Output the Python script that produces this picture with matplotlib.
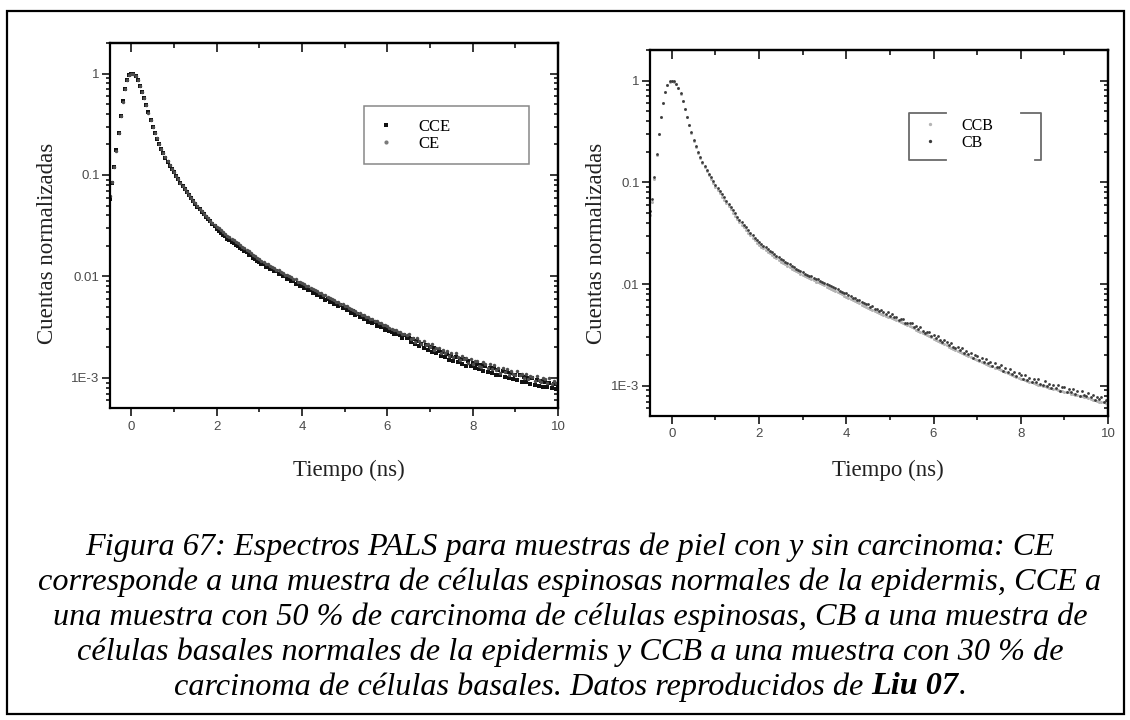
import numpy as np
import matplotlib
matplotlib.use("Agg")
import matplotlib.pyplot as plt
from matplotlib.lines import Line2D
from matplotlib.patches import Rectangle
from matplotlib.ticker import MultipleLocator, LogLocator, NullFormatter

# PALS time channels (50 ps wide) from -0.5 ns to 10 ns
t_ns = np.round(np.arange(211) * 0.05 - 0.5, 2)

# left panel: CCE (squares) and CE (dots), normalised counts
cce = [
    0.058, 0.084, 0.121, 0.176, 0.262, 0.378, 0.531, 0.702, 0.858, 0.968,
    1.0, 0.988, 0.938, 0.861, 0.762, 0.665, 0.570, 0.485, 0.415, 0.352,
    0.300, 0.260, 0.228, 0.201, 0.180, 0.163, 0.148, 0.135, 0.124, 0.114,
    0.106, 0.0974, 0.0903, 0.0835, 0.0779, 0.0725, 0.0679, 0.0633, 0.0594, 0.0555,
    0.0519, 0.0488, 0.0461, 0.0434, 0.0411, 0.0388, 0.0368, 0.0349, 0.0331, 0.0314,
    0.0292, 0.0279, 0.0269, 0.0256, 0.0249, 0.0236, 0.0231, 0.0220, 0.0214, 0.0204,
    0.0200, 0.0190, 0.0186, 0.0177, 0.0173, 0.0164, 0.0161, 0.0153, 0.0149, 0.0142,
    0.0140, 0.0133, 0.0132, 0.0125, 0.0125, 0.0118, 0.0118, 0.0112, 0.0112, 0.0106,
    0.0105, 0.0100, 0.0101, 0.0095, 0.0094, 0.0091, 0.0090, 0.0085, 0.0086, 0.0081,
    0.0081, 0.0077, 0.00775, 0.00735, 0.00738, 0.0069, 0.00702, 0.0066, 0.00668, 0.00625,
    0.0063, 0.0059, 0.0060, 0.00562, 0.00575, 0.00538, 0.00545, 0.00508, 0.0052, 0.00488,
    0.00495, 0.00462, 0.00472, 0.00438, 0.00452, 0.00418, 0.0043, 0.00398, 0.00412, 0.0038,
    0.00388, 0.00358, 0.00372, 0.00345, 0.00354, 0.00326, 0.00342, 0.00315, 0.00322, 0.00296,
    0.0031, 0.00292, 0.00285, 0.00272, 0.00283, 0.00268, 0.00262, 0.00248, 0.00263, 0.00245,
    0.0025, 0.00226, 0.0024, 0.00218, 0.0023, 0.00206, 0.00218, 0.00198, 0.0021, 0.00188,
    0.002, 0.0018, 0.00195, 0.00176, 0.00186, 0.00165, 0.0018, 0.0016, 0.00172, 0.0015,
    0.00165, 0.00148, 0.00162, 0.00142, 0.00155, 0.00138, 0.00152, 0.0013, 0.00146, 0.00131,
    0.0014, 0.00126, 0.00138, 0.00121, 0.00135, 0.00118, 0.0013, 0.00114, 0.00126, 0.00111,
    0.00124, 0.00108, 0.0012, 0.00106, 0.00117, 0.00102, 0.00115, 0.001, 0.00111, 0.00097,
    0.00108, 0.00096, 0.00106, 0.00092, 0.00103, 0.00091, 0.001, 0.00088, 0.00099, 0.00086,
    0.00095, 0.00084, 0.00094, 0.00082, 0.00092, 0.00081, 0.0009, 0.00079, 0.00088, 0.00078,
    0.00086,
]
ce = [
    0.062, 0.086, 0.119, 0.174, 0.258, 0.382, 0.528, 0.698, 0.862, 0.972,
    1.0, 0.992, 0.942, 0.858, 0.758, 0.662, 0.568, 0.488, 0.412, 0.350,
    0.298, 0.259, 0.229, 0.200, 0.181, 0.164, 0.149, 0.136, 0.125, 0.115,
    0.107, 0.0978, 0.0906, 0.0840, 0.0783, 0.0731, 0.0682, 0.0638, 0.0598, 0.0560,
    0.0526, 0.0494, 0.0466, 0.0440, 0.0416, 0.0394, 0.0374, 0.0355, 0.0337, 0.0320,
    0.0310, 0.0297, 0.0286, 0.0272, 0.0264, 0.0253, 0.0245, 0.0234, 0.0228, 0.0218,
    0.0212, 0.0205, 0.0196, 0.0191, 0.0182, 0.0177, 0.0170, 0.0164, 0.0158, 0.0153,
    0.0148, 0.0142, 0.0140, 0.0134, 0.0133, 0.0127, 0.0125, 0.0121, 0.0117, 0.0115,
    0.0111, 0.0109, 0.0104, 0.0103, 0.0100, 0.0098, 0.0094, 0.0094, 0.0089, 0.0088,
    0.0086, 0.0084, 0.00808, 0.0080, 0.0077, 0.00755, 0.00735, 0.00718, 0.0069, 0.00682,
    0.00662, 0.0065, 0.00622, 0.00618, 0.00598, 0.0059, 0.00565, 0.0056, 0.0054, 0.00532,
    0.00515, 0.00508, 0.00488, 0.00482, 0.00462, 0.0046, 0.0044, 0.00438, 0.0042, 0.00416,
    0.00398, 0.00396, 0.0038, 0.0038, 0.00362, 0.00362, 0.00345, 0.00346, 0.00332, 0.0033,
    0.00322, 0.00309, 0.00305, 0.00296, 0.00294, 0.00284, 0.00281, 0.00271, 0.0027, 0.00262,
    0.00271, 0.00243, 0.00248, 0.00227, 0.00245, 0.00231, 0.00217, 0.00233, 0.00211, 0.00217,
    0.002, 0.00214, 0.00188, 0.00199, 0.00199, 0.00176, 0.00188, 0.00176, 0.00185, 0.00166,
    0.00177, 0.00159, 0.00177, 0.00159, 0.0015, 0.00165, 0.00155, 0.00157, 0.0014, 0.00152,
    0.00137, 0.00146, 0.00148, 0.00132, 0.00127, 0.00142, 0.00136, 0.00125, 0.00136, 0.00122,
    0.00134, 0.00119, 0.00125, 0.00113, 0.00125, 0.00114, 0.00121, 0.00108, 0.00116, 0.0011,
    0.00107, 0.00118, 0.00106, 0.00109, 0.00099, 0.00109, 0.00097, 0.00105, 0.00101, 0.00093,
    0.00104, 0.00095, 0.00091, 0.001, 0.00097, 0.00089, 0.00099, 0.00088, 0.00094, 0.00089,
    0.0009,
]

# right panel: CCB (light dots) and CB (dark dots)
ccb = [
    0.048, 0.064, 0.108, 0.186, 0.296, 0.436, 0.596, 0.766, 0.898, 0.98,
    1.0, 0.98, 0.925, 0.848, 0.742, 0.628, 0.524, 0.435, 0.365, 0.305,
    0.257, 0.223, 0.195, 0.173, 0.155, 0.140, 0.128, 0.117, 0.107, 0.0985,
    0.0905, 0.0841, 0.0781, 0.0726, 0.0675, 0.0627, 0.0583, 0.0542, 0.0504, 0.0469,
    0.0435, 0.0407, 0.0383, 0.0361, 0.0340, 0.0321, 0.0303, 0.0286, 0.0271, 0.0256,
    0.0242, 0.0232, 0.0224, 0.0215, 0.0208, 0.0200, 0.0193, 0.0185, 0.0179, 0.0172,
    0.0165, 0.0161, 0.0156, 0.0151, 0.0147, 0.0142, 0.0138, 0.0133, 0.0130, 0.0126,
    0.0122, 0.0119, 0.0117, 0.0114, 0.0112, 0.0109, 0.0106, 0.0104, 0.0102, 0.0100,
    0.0097, 0.0094, 0.0092, 0.0090, 0.0087, 0.0086, 0.0084, 0.0081, 0.0079, 0.0077,
    0.0075, 0.00733, 0.00714, 0.00697, 0.00679, 0.00662, 0.00645, 0.00629, 0.00613, 0.00598,
    0.00583, 0.00571, 0.00558, 0.00546, 0.00535, 0.00524, 0.00512, 0.00501, 0.00491, 0.0048,
    0.0047, 0.0046, 0.00449, 0.0044, 0.0043, 0.0042, 0.00411, 0.00402, 0.00393, 0.00384,
    0.00376, 0.00367, 0.00357, 0.00348, 0.00339, 0.00331, 0.00322, 0.00314, 0.00306, 0.00299,
    0.00291, 0.00284, 0.00276, 0.0027, 0.00263, 0.00257, 0.0025, 0.00243, 0.00237, 0.00231,
    0.00226, 0.0022, 0.00215, 0.00211, 0.00206, 0.00201, 0.00196, 0.00192, 0.00187, 0.00183,
    0.00179, 0.00175, 0.00171, 0.00168, 0.00165, 0.00162, 0.00158, 0.00155, 0.00151, 0.00149,
    0.00146, 0.00143, 0.00139, 0.00136, 0.00133, 0.00131, 0.00128, 0.00125, 0.00122, 0.0012,
    0.00118, 0.00116, 0.00114, 0.00112, 0.0011, 0.00108, 0.00106, 0.00104, 0.00103, 0.00102,
    0.001, 0.00099, 0.00097, 0.00096, 0.00095, 0.00093, 0.00092, 0.00091, 0.00089, 0.00088,
    0.00087, 0.00086, 0.00086, 0.00084, 0.00083, 0.00082, 0.00081, 0.0008, 0.00079, 0.00078,
    0.00077, 0.00076, 0.00075, 0.00073, 0.00072, 0.00071, 0.0007, 0.0007, 0.00069, 0.00068,
    0.00067,
]
cb = [
    0.052, 0.068, 0.112, 0.192, 0.302, 0.442, 0.602, 0.772, 0.902, 0.982,
    1.0, 0.985, 0.93, 0.855, 0.75, 0.635, 0.53, 0.44, 0.37, 0.31,
    0.262, 0.228, 0.200, 0.178, 0.160, 0.145, 0.133, 0.122, 0.112, 0.103,
    0.095, 0.0884, 0.0822, 0.0764, 0.0711, 0.0661, 0.0615, 0.0572, 0.0532, 0.0495,
    0.0460, 0.0431, 0.0405, 0.0382, 0.0360, 0.0340, 0.0321, 0.0303, 0.0287, 0.0271,
    0.0257, 0.0247, 0.0238, 0.0229, 0.0221, 0.0213, 0.0205, 0.0197, 0.0190, 0.0183,
    0.0176, 0.0171, 0.0166, 0.0161, 0.0156, 0.0151, 0.0147, 0.0142, 0.0138, 0.0134,
    0.0130, 0.0127, 0.0124, 0.0121, 0.0119, 0.0116, 0.0113, 0.0111, 0.0108, 0.0106,
    0.0103, 0.0100, 0.0098, 0.0096, 0.0093, 0.0091, 0.0089, 0.0086, 0.0084, 0.0082,
    0.0081, 0.00775, 0.00765, 0.00735, 0.00728, 0.00698, 0.00692, 0.00662, 0.00658, 0.0063,
    0.00632, 0.00601, 0.00612, 0.00569, 0.00575, 0.0054, 0.00556, 0.00533, 0.00512, 0.00526,
    0.0049, 0.00504, 0.00473, 0.00477, 0.00443, 0.00451, 0.0045, 0.00419, 0.00418, 0.00417,
    0.00412, 0.00382, 0.00384, 0.00359, 0.00375, 0.00348, 0.00333, 0.00341, 0.00339, 0.00312,
    0.00316, 0.00293, 0.00306, 0.00284, 0.00269, 0.00281, 0.00269, 0.00251, 0.00265, 0.00241,
    0.00233, 0.00243, 0.00224, 0.00235, 0.0021, 0.00218, 0.00207, 0.00212, 0.00189, 0.00201,
    0.00198, 0.00179, 0.00186, 0.0017, 0.00184, 0.00169, 0.00173, 0.00158, 0.00167, 0.00153,
    0.00152, 0.0016, 0.00141, 0.00149, 0.00136, 0.00147, 0.00132, 0.00136, 0.00124, 0.00133,
    0.00129, 0.00118, 0.00127, 0.00115, 0.00119, 0.00108, 0.00118, 0.00109, 0.00116, 0.00104,
    0.00103, 0.00111, 0.00099, 0.00104, 0.00096, 0.00103, 0.00096, 0.00102, 0.00089, 0.00097,
    0.00097, 0.00087, 0.00094, 0.00086, 0.00093, 0.00084, 0.00088, 0.0008, 0.00088, 0.00081,
    0.00079, 0.00085, 0.00078, 0.00081, 0.00072, 0.00078, 0.00074, 0.00078, 0.00069, 0.00073,
    0.00071,
]
for s in (cce, ce, ccb, cb):
    assert len(s) == len(t_ns)

x_ticks = [0, 2, 4, 6, 8, 10]
y_ticks = [1, 0.1, 0.01, 1e-3]
y_labels_left = ["1", "0.1", "0.01", "1E-3"]
y_labels_right = ["1", "0.1", ".01", "1E-3"]

caption = [
    "Figura 67: Espectros PALS para muestras de piel con y sin carcinoma: CE",
    "corresponde a una muestra de células espinosas normales de la epidermis, CCE a",
    "una muestra con 50 % de carcinoma de células espinosas, CB a una muestra de",
    "células basales normales de la epidermis y CCB a una muestra con 30 % de",
    "carcinoma de células basales. Datos reproducidos de",
]
ref_text = "Liu 07"

SERIF = "Liberation Serif"
SANS = "Liberation Sans"

W, H = 1130, 720
fig = plt.figure(figsize=(W / 100, H / 100), dpi=100)


def fx(x):
    return x / W


def fy(y):
    return 1 - y / H


def axes_px(x0, y0, x1, y1):
    return fig.add_axes([fx(x0), fy(y1), (x1 - x0) / W, (y1 - y0) / H])


def setup(ax, ylabels):
    ax.set_yscale("log")
    ax.set_xlim(-0.5, 10)
    ax.set_ylim(5.05e-4, 2.0)
    ax.set_xticks(x_ticks)
    ax.xaxis.set_minor_locator(MultipleLocator(1))
    ax.set_yticks(y_ticks)
    ax.set_yticklabels(ylabels)
    ax.yaxis.set_minor_locator(LogLocator(10, subs=np.arange(2, 10)))
    ax.yaxis.set_minor_formatter(NullFormatter())
    for s in ax.spines.values():
        s.set_linewidth(1.6)
    ax.tick_params(which="both", direction="out", width=1.1,
                   labelcolor="#4a4a4a", labelsize=9.5)
    ax.tick_params(which="major", length=5.5)
    ax.tick_params(which="minor", length=3.2)
    ax.tick_params(axis="x", pad=3.5)
    ax.tick_params(axis="y", pad=2)
    for lab in ax.get_xticklabels() + ax.get_yticklabels():
        lab.set_family(SANS)

    top = ax.secondary_xaxis("top")
    top.set_xticks(x_ticks)
    top.xaxis.set_minor_locator(MultipleLocator(1))
    top.tick_params(which="both", direction="in", labeltop=False, width=1.1)
    top.tick_params(which="major", length=6.5)
    top.tick_params(which="minor", length=3.5)
    top.spines["top"].set_linewidth(1.6)

    right = ax.secondary_yaxis("right")
    right.set_yticks(y_ticks)
    right.yaxis.set_minor_locator(LogLocator(10, subs=np.arange(2, 10)))
    right.yaxis.set_minor_formatter(NullFormatter())
    right.tick_params(which="both", direction="in", labelright=False, width=1.1)
    right.tick_params(which="major", length=5.5)
    right.tick_params(which="minor", length=3.0)
    right.spines["right"].set_linewidth(1.6)


# ---- left panel
ax1 = axes_px(110, 43, 558, 408)
setup(ax1, y_labels_left)
ax1.plot(t_ns, cce, ls="none", marker="s", ms=2.3, mew=0, color="#111111", label="CCE")
ax1.plot(t_ns, ce, ls="none", marker="o", ms=2.5, mew=0, color="#4d4d4d", label="CE")
leg1 = ax1.legend(
    handles=[Line2D([], [], ls="none", marker="s", ms=3.2, mew=0, color="#111111"),
             Line2D([], [], ls="none", marker="o", ms=3.0, mew=0, color="#7a7a7a")],
    labels=["CCE", "CE"], loc="upper left",
    bbox_to_anchor=(0.567, 0.655, 0.368, 0.172), mode="expand", borderaxespad=0,
    fancybox=False, edgecolor="#6a6a6a", prop={"family": SERIF, "size": 12},
    borderpad=0.75, handlelength=1.14, handletextpad=1.35, labelspacing=0.06,
)
leg1.get_frame().set_linewidth(1.1)

# ---- right panel
ax2 = axes_px(650, 50, 1108, 416)
setup(ax2, y_labels_right)
ax2.plot(t_ns, ccb, ls="none", marker="o", ms=2.2, mew=0, color="#b5b5b5", label="CCB")
ax2.plot(t_ns, cb, ls="none", marker="o", ms=2.0, mew=0, color="#3a3a3a", label="CB")
ax2.legend(
    handles=[Line2D([], [], ls="none", marker="o", ms=2.4, mew=0, color="#b5b5b5"),
             Line2D([], [], ls="none", marker="o", ms=2.4, mew=0, color="#3a3a3a")],
    labels=["CCB", "CB"], loc="upper left", bbox_to_anchor=(0.5655, 0.828),
    borderaxespad=0, frameon=False, prop={"family": SERIF, "size": 11.5},
    borderpad=0.3, handlelength=2.0, handletextpad=1.0, labelspacing=0.08,
)
# bracket-like remains of the legend frame
bx0, bx1, by0, by1 = 0.5655, 0.8537, 0.6995, 0.828
for xs, ys in [((0.646, bx0, bx0, 0.646), (by1, by1, by0, by0)),
               ((0.810, bx1, bx1, 0.8406), (by1, by1, by0, by0))]:
    ax2.add_line(Line2D(xs, ys, transform=ax2.transAxes, color="#6a6a6a", lw=1.3))

# ---- axis titles
for x in (48, 596):
    fig.text(fx(x), fy(243), "Cuentas normalizadas", rotation=90, ha="center",
             va="center", family=SERIF, size=16.5, color="#222222")
for x, y in ((349, 470), (888, 470)):
    fig.text(fx(x), fy(y), "Tiempo (ns)", ha="center", va="center",
             family=SERIF, size=16.5, color="#222222")

# ---- outer frame
fig.patches.append(Rectangle((fx(7), fy(714)), (1124 - 7) / W, (714 - 11) / H,
                             transform=fig.transFigure, fill=False, lw=1.6, ec="black"))

# ---- caption
cap_size = 23.2
cap_y = [547, 582, 617, 652, 687]
for line, y in zip(caption[:4], cap_y):
    fig.text(fx(570), fy(y), line, ha="center", va="center", family=SERIF,
             style="italic", size=cap_size)

fig.canvas.draw()
r = fig.canvas.get_renderer()
t_a = fig.text(0, fy(cap_y[4]), caption[4], ha="left", va="center", family=SERIF,
               style="italic", size=cap_size)
t_b = fig.text(0, fy(cap_y[4]), ref_text, ha="left", va="center", family=SERIF,
               style="italic", weight="bold", size=cap_size)
t_c = fig.text(0, fy(cap_y[4]), ".", ha="left", va="center", family=SERIF,
               style="italic", size=cap_size)
space = 0.25 * cap_size * 100 / 72
wa = t_a.get_window_extent(r).width
wb = t_b.get_window_extent(r).width
wc = t_c.get_window_extent(r).width
x = 570 - (wa + space + wb + wc) / 2
t_a.set_x(fx(x))
t_b.set_x(fx(x + wa + space))
t_c.set_x(fx(x + wa + space + wb + 1))

fig.savefig("out.png", dpi=100)
